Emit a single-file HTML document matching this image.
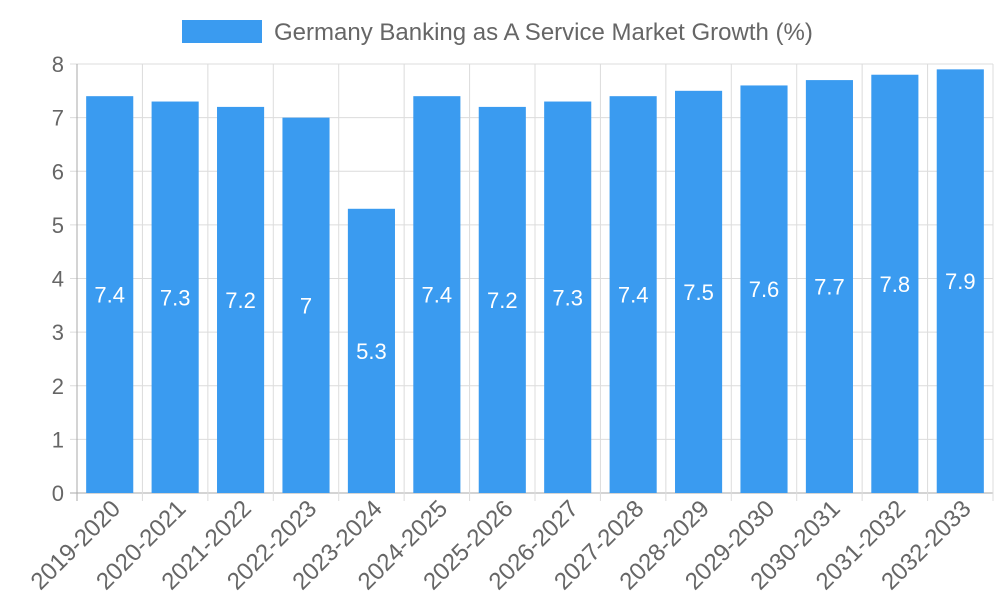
<!DOCTYPE html>
<html><head><meta charset="utf-8"><style>
body{margin:0;background:#fff;}
svg{display:block;font-family:"Liberation Sans",sans-serif;}
</style></head><body>
<svg id="chart" width="1000" height="600">
<g>
<rect x="182" y="20" width="80" height="23" fill="#3a9bf0"/>
<text x="274" y="40" font-size="24" fill="#666">Germany Banking as A Service Market Growth (%)</text>
</g>
<g id="grid"></g><g id="bars"></g><g id="axes"></g>
</svg>
<script>
const categories=["2019-2020","2020-2021","2021-2022","2022-2023","2023-2024","2024-2025","2025-2026","2026-2027","2027-2028","2028-2029","2029-2030","2030-2031","2031-2032","2032-2033"];
const values=[7.4,7.3,7.2,7,5.3,7.4,7.2,7.3,7.4,7.5,7.6,7.7,7.8,7.9];
const yTicks=[0,1,2,3,4,5,6,7,8];
const NS="http://www.w3.org/2000/svg";
const L=77,R=993,T=64,B=493,yMax=8;
const bw=(R-L)/categories.length;
const x=i=>L+i*bw;
const y=v=>B-(v/yMax)*(B-T);
function mk(p,tag,a,txt){const e=document.createElementNS(NS,tag);for(const k in a)e.setAttribute(k,a[k]);if(txt!==undefined)e.textContent=txt;p.appendChild(e);return e;}
const grid=document.getElementById('grid'),bars=document.getElementById('bars'),axes=document.getElementById('axes');
yTicks.forEach(t=>{
 const l=mk(grid,'line',{x1:L-7,x2:R,y1:y(t),y2:y(t),stroke:t===0?'#aaa':'#dcdcdc','stroke-width':1});
 
 
 const tx=mk(axes,'text',{x:L-13,y:y(t)+8,'text-anchor':'end','font-size':22,fill:'#666'},t);
 
 
});
for(let i=0;i<=categories.length;i++){
 const l=mk(grid,'line',{x1:x(i),x2:x(i),y1:T,y2:B+8,stroke:i===0?'#aaa':'#dcdcdc','stroke-width':1});
 
 
}
categories.forEach((c,i)=>{
 const cx=x(i)+bw/2,w=bw*0.72,v=values[i];
 const r=mk(bars,'rect',{x:cx-w/2,y:y(v),width:w,height:B-y(v),fill:'#3a9bf0'});
 
 
 const t=mk(bars,'text',{x:cx,y:(y(v)+B)/2+8,'text-anchor':'middle','font-size':22,fill:'#fff'},v);
 
 
 const ax=cx+12,ay=B+17;
 const lb=mk(axes,'text',{x:ax,y:ay,'text-anchor':'end','font-size':24,fill:'#666',transform:`rotate(-45 ${ax} ${ay})`},c);
 
 
});
</script>
</body></html>
